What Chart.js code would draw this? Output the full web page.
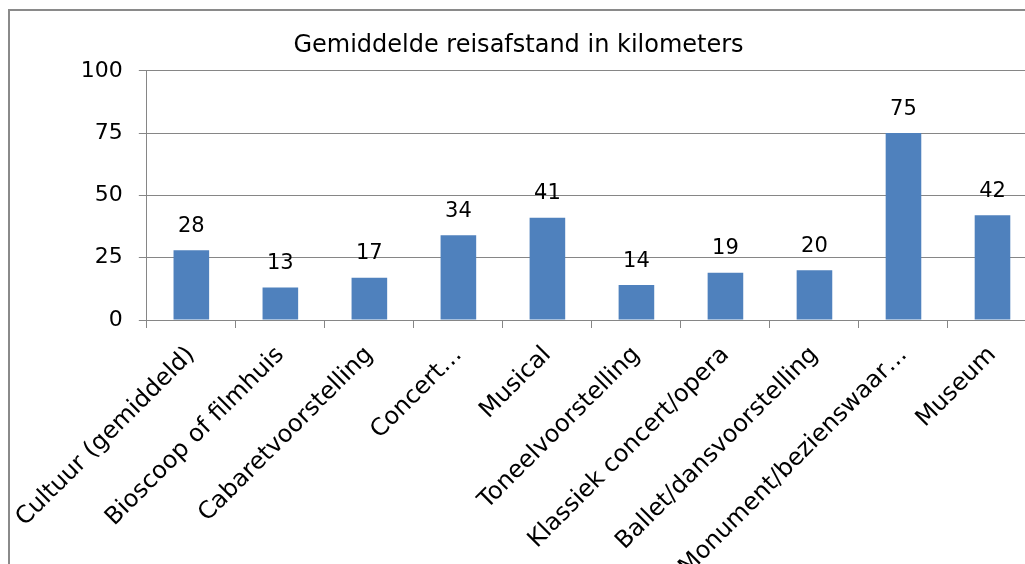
<!DOCTYPE html>
<html>
<head>
<meta charset="utf-8">
<script src="https://cdn.jsdelivr.net/npm/chart.js@4"></script>
<style>
html, body { margin: 0; padding: 0; background: #fff; overflow: hidden; }
#frame { position: absolute; left: 8px; top: 9px; width: 1100px; height: 600px; border: 2px solid #8a8a8a; }
#wrap { position: absolute; left: 0; top: 0; width: 1044px; height: 564px; }
</style>
</head>
<body>
<div id="frame"></div>
<div id="wrap"><canvas id="chart"></canvas></div>
<script>
const categories = [
  'Cultuur (gemiddeld)', 'Bioscoop of filmhuis', 'Cabaretvoorstelling', 'Concert…',
  'Musical', 'Toneelvoorstelling', 'Klassiek concert/opera', 'Ballet/dansvoorstelling',
  'Monument/bezienswaar…', 'Museum'
];
const distances = [28, 13, 17, 34, 41, 14, 19, 20, 75, 42];
const yTicks = [0, 25, 50, 75, 100];

const FONT = 'DejaVu Sans, Verdana, sans-serif';
const GRID = '#868686';

const valueLabels = {
  id: 'valueLabels',
  afterDatasetsDraw(chart) {
    const { ctx } = chart;
    const meta = chart.getDatasetMeta(0);
    ctx.save();
    ctx.font = '21px ' + FONT;
    ctx.fillStyle = '#000';
    ctx.textAlign = 'center';
    ctx.textBaseline = 'middle';
    meta.data.forEach((bar, i) => {
      ctx.fillText(String(distances[i]), bar.x, bar.y - 24);
    });
    ctx.restore();
  }
};

new Chart(document.getElementById('chart'), {
  type: 'bar',
  data: {
    labels: categories,
    datasets: [{
      data: distances,
      backgroundColor: '#4f81bd',
      borderWidth: 0,
      barPercentage: 0.4,
      categoryPercentage: 1
    }]
  },
  options: {
    responsive: true,
    maintainAspectRatio: false,
    animation: false,
    layout: { padding: { left: 0, right: 7, top: 0, bottom: 0 } },
    plugins: {
      legend: { display: false },
      tooltip: { enabled: false },
      title: {
        display: true,
        text: 'Gemiddelde reisafstand in kilometers',
        color: '#000',
        font: { family: FONT, size: 24, weight: 'normal', lineHeight: 1.2 },
        padding: { top: 31, bottom: 11 }
      }
    },
    scales: {
      x: {
        grid: {
          offset: true,
          drawOnChartArea: false,
          drawTicks: true,
          tickLength: 8,
          color: GRID
        },
        border: { display: true, color: GRID },
        ticks: {
          color: '#000',
          font: { family: FONT, size: 24 },
          minRotation: 45,
          maxRotation: 45,
          autoSkip: false,
          padding: 13
        },
        afterFit(scale) { scale.height = 244; }
      },
      y: {
        min: 0,
        max: 100,
        afterBuildTicks(scale) { scale.ticks = yTicks.map(v => ({ value: v })); },
        grid: { color: GRID, tickLength: 8, drawTicks: true },
        border: { display: true, color: GRID },
        ticks: {
          color: '#000',
          font: { family: FONT, size: 22 },
          padding: 16
        },
        afterFit(scale) { scale.width = 146; }
      }
    }
  },
  plugins: [valueLabels]
});
</script>
</body>
</html>
